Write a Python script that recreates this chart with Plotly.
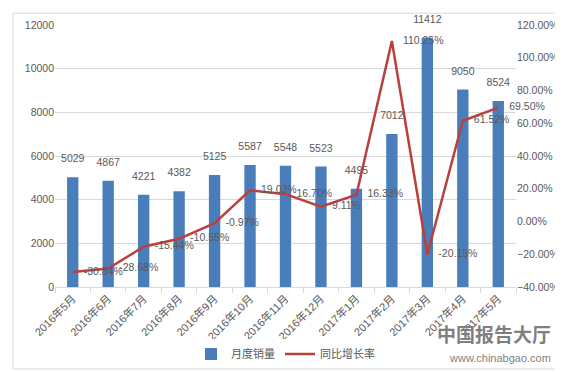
import plotly.graph_objects as go

categories = ["2016年5月", "2016年6月", "2016年7月", "2016年8月", "2016年9月", "2016年10月",
              "2016年11月", "2016年12月", "2017年1月", "2017年2月", "2017年3月", "2017年4月", "2017年5月"]
monthly_sales = [5029, 4867, 4221, 4382, 5125, 5587, 5548, 5523, 4495, 7012, 11412, 9050, 8524]
yoy_growth = [-0.3084, -0.2868, -0.1544, -0.1055, -0.0097, 0.1903, 0.1670, 0.0911, 0.1633,
              1.1025, -0.2015, 0.6152, 0.6950]

FONT = "Liberation Sans, Noto Sans CJK SC, sans-serif"
GRAY = "#595959"

fig = go.Figure()
fig.add_trace(go.Bar(
    x=categories, y=monthly_sales, name="月度销量",
    marker=dict(color="#4a7ebb", line=dict(width=0)),
    width=0.32,
))
fig.add_trace(go.Scatter(
    x=categories, y=monthly_sales, mode="markers+text", showlegend=False, hoverinfo="skip",
    marker=dict(size=18, opacity=0),
    text=[str(v) for v in monthly_sales], textposition="top center",
    textfont=dict(size=10.5, color=GRAY, family=FONT), cliponaxis=False,
))
fig.add_trace(go.Scatter(
    x=categories, y=yoy_growth, name="同比增长率", yaxis="y2",
    mode="lines",
    line=dict(color="#b9403d", width=2.5),
))
fig.add_trace(go.Scatter(
    x=categories, y=yoy_growth, yaxis="y2", mode="markers+text",
    showlegend=False, hoverinfo="skip",
    marker=dict(size=16, opacity=0),
    text=[f"{v*100:.2f}%" for v in yoy_growth], textposition="middle right",
    textfont=dict(size=10.5, color=GRAY, family=FONT),
    cliponaxis=False,
))

fig.update_layout(
    width=563, height=372,
    margin=dict(l=47, r=55, t=17, b=90),
    paper_bgcolor="white", plot_bgcolor="white",
    font=dict(family=FONT, size=10, color=GRAY),
    bargap=0.7,
    xaxis=dict(
        type="category", range=[-0.5, 12.5], automargin=False,
        tickangle=-45, tickfont=dict(size=11, color=GRAY),
        showline=True, linecolor="#d9d9d9", linewidth=1,
        ticks="outside", ticklen=5, tickcolor="#d9d9d9", tickson="boundaries",
        showgrid=False,
    ),
    yaxis=dict(
        range=[0, 12000], dtick=2000, tickformat="d", showgrid=True, gridcolor="#d9d9d9",
        zeroline=False, tickfont=dict(size=10.5, color=GRAY), ticks="", automargin=False,
    ),
    yaxis2=dict(
        range=[-0.4, 1.2], dtick=0.2, tickformat=".2%", overlaying="y", side="right",
        showgrid=False, zeroline=False, tickfont=dict(size=10.5, color=GRAY), automargin=False,
    ),
    legend=dict(orientation="h", x=0.5, xanchor="center", y=-0.2, yanchor="top",
                font=dict(size=11, color=GRAY, family=FONT)),
    shapes=[dict(type="rect", xref="paper", yref="paper",
                 x0=-0.091, x1=1.098, y0=-0.313, y1=1.045,
                 line=dict(color="#d9d9d9", width=1), layer="below")],
    annotations=[
        dict(text="<b>中国报告大厅</b>", xref="paper", yref="paper", x=1.08, y=-0.12,
             xanchor="right", yanchor="top", showarrow=False,
             font=dict(size=19, color="#7f7f7f", family="Noto Sans CJK SC")),
        dict(text="www.chinabgao.com", xref="paper", yref="paper", x=1.08, y=-0.24,
             xanchor="right", yanchor="top", showarrow=False,
             font=dict(size=11, color="#7f7f7f", family="Liberation Sans")),
    ],
)

fig.write_html("out.html")
